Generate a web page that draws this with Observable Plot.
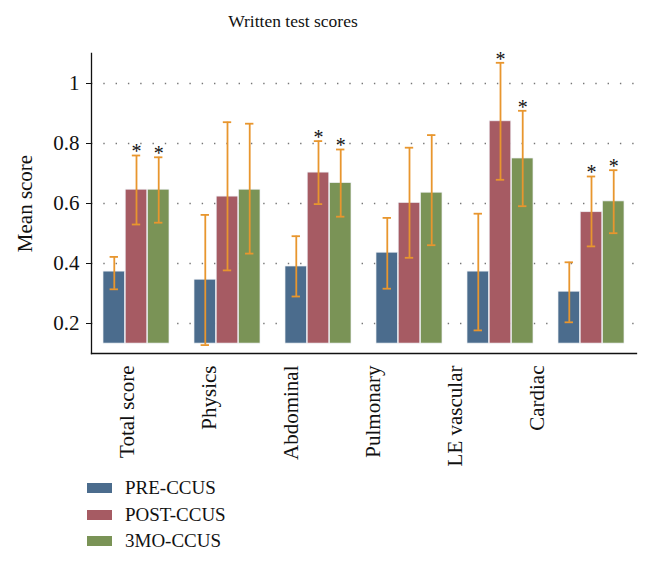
<!DOCTYPE html>
<html><head><meta charset="utf-8">
<script src="https://cdn.jsdelivr.net/npm/d3@7"></script>
<script src="https://cdn.jsdelivr.net/npm/@observablehq/plot@0.6"></script>
<style>
body{margin:0;background:#fff;font-family:"Liberation Serif",serif;color:#111;}
#wrap{width:648px;position:relative;background:#fff;}
#title{width:586px;height:40px;line-height:42px;text-align:center;font-size:17.5px;}
#legend{padding-left:87px;margin-top:5px;}
.row{height:26.5px;display:flex;align-items:center;font-size:19px;}
.sw{width:25px;height:10px;margin-right:13px;}
</style></head><body>
<div id="wrap"><div id="title">Written test scores</div><div id="chart"></div><div id="legend"></div></div>
<script>
const categories = ["Total score","Physics","Abdominal","Pulmonary","LE vascular","Cardiac"];
const series = ["PRE-CCUS","POST-CCUS","3MO-CCUS"];
const preMean  = [0.373,0.346,0.390,0.436,0.373,0.306];
const preLow   = [0.314,0.128,0.290,0.316,0.177,0.204];
const preHigh  = [0.422,0.562,0.491,0.552,0.566,0.404];
const postMean = [0.646,0.623,0.703,0.602,0.874,0.571];
const postLow  = [0.530,0.377,0.598,0.419,0.679,0.457];
const postHigh = [0.760,0.871,0.808,0.786,1.069,0.690];
const moMean   = [0.646,0.646,0.668,0.636,0.750,0.607];
const moLow    = [0.536,0.433,0.556,0.461,0.591,0.501];
const moHigh   = [0.754,0.866,0.780,0.828,0.909,0.711];
const preSig   = [false,false,false,false,false,false];
const postSig  = [true,false,true,false,true,true];
const moSig    = [true,false,true,false,true,true];
const yTicks = [0.2,0.4,0.6,0.8,1];
const yDomain = [0.1,1.1];
const baseline = 0.133;

const colors = ["#4b6c8d","#a65b63","#7a9356"];
const errColor = "#e8962e";

const W = 648, H = 430, mL = 91, mR = 12, mT = 13, mB = 117;
const xOpts = {type: "band", domain: categories, range: [mL, W - mR], paddingInner: 0.27, paddingOuter: 0.12};
const bw = Plot.scale({x: xOpts}).bandwidth;
const w = bw / 3;
const cap = 6.6;

const means = [preMean, postMean, moMean];
const lows = [preLow, postLow, moLow];
const highs = [preHigh, postHigh, moHigh];
const sigs = [preSig, postSig, moSig];
const perSeries = series.map((s, j) => categories.map((c, i) => ({
  category: c, series: s, mean: means[j][i], low: lows[j][i], high: highs[j][i], sig: sigs[j][i]
})));

const seriesMarks = perSeries.flatMap((data, j) => [
  Plot.barY(data, {x: "category", y1: baseline, y2: "mean", fill: "series", stroke: "#eef0f4", strokeWidth: 0.7,
    insetLeft: j * w, insetRight: (2 - j) * w}),
  Plot.ruleX(data, {x: "category", y1: "low", y2: "high", dx: (j - 1) * w, stroke: errColor, strokeWidth: 1.8}),
  Plot.tickY(data, {x: "category", y: "low", insetLeft: j * w + cap, insetRight: (2 - j) * w + cap, stroke: errColor, strokeWidth: 1.8}),
  Plot.tickY(data, {x: "category", y: "high", insetLeft: j * w + cap, insetRight: (2 - j) * w + cap, stroke: errColor, strokeWidth: 1.8}),
  Plot.text(data.filter(d => d.sig), {x: "category", y: "high", text: () => "*", dx: (j - 1) * w, fontSize: 20, lineAnchor: "middle", dy: -3.5, fill: "#111"})
]);

const xAxes = categories.map((c, i) => Plot.axisX({
  ticks: [c], tickSize: 0, tickPadding: 12, rotate: -90, textAnchor: "end", lineAnchor: "middle",
  fontSize: 21, label: null, dx: -9.1 * (i + 1)
}));

const plot = Plot.plot({
  width: W, height: H,
  marginLeft: mL, marginRight: mR, marginTop: mT, marginBottom: mB,
  style: {fontFamily: "Liberation Serif", color: "#111", background: "transparent"},
  x: {domain: categories, paddingInner: 0.27, paddingOuter: 0.12},
  y: {domain: yDomain},
  color: {domain: series, range: colors},
  marks: [
    Plot.ruleY(yTicks, {stroke: "#777", strokeWidth: 1.6, strokeDasharray: "1.4 10.9"}),
    ...seriesMarks,
    Plot.frame({anchor: "left", stroke: "#111", strokeWidth: 1.3}),
    Plot.frame({anchor: "bottom", stroke: "#111", strokeWidth: 1.3}),
    Plot.axisY({ticks: yTicks, tickSize: 5, tickPadding: 7, fontSize: 21, label: "Mean score", labelAnchor: "center", labelOffset: 74, labelArrow: "none", tickFormat: d => String(d)}),
    ...xAxes
  ]
});
document.getElementById("chart").appendChild(plot);

const legend = d3.select("#legend");
series.forEach((s, j) => {
  const row = legend.append("div").attr("class", "row");
  row.append("div").attr("class", "sw").style("background", colors[j]);
  row.append("span").text(s);
});
</script>
</body></html>
